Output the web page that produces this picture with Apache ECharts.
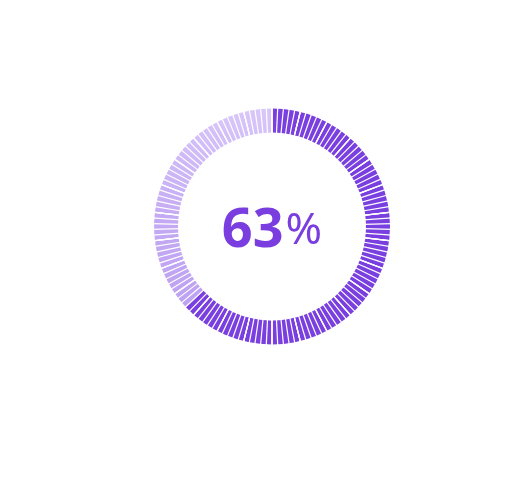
<!DOCTYPE html>
<html>
<head>
<meta charset="utf-8">
<script src="https://cdn.jsdelivr.net/npm/echarts@6/dist/echarts.min.js"></script>
<style>
html,body{margin:0;padding:0;background:#fff;}
#main{width:505px;height:494px;}
</style>
</head>
<body>
<div id="main"></div>
<script>
// Data
const percentValue = [63];
const gaugeMin = 0;
const gaugeMax = 100;

const chart = echarts.init(document.getElementById('main'));
const frac = (percentValue[0] - gaugeMin) / (gaugeMax - gaugeMin);

const lightGradient = new echarts.graphic.LinearGradient(0, 0, 0, 1, [
  { offset: 0, color: '#d8c7fa' },
  { offset: 0.55, color: '#c4aaf4' },
  { offset: 1, color: '#bea2f2' }
]);

const gapStyle = { color: '#ffffff', width: 1.2 };

chart.setOption({
  backgroundColor: '#ffffff',
  series: [{
    type: 'gauge',
    center: [272, 226.5],
    radius: 118,
    startAngle: 90,
    endAngle: -270,
    min: gaugeMin,
    max: gaugeMax,
    splitNumber: 26,
    animation: false,
    pointer: { show: false },
    anchor: { show: false },
    title: { show: false },
    axisLine: {
      show: true,
      lineStyle: {
        width: 24,
        color: [[frac, '#7a40df'], [1, lightGradient]]
      }
    },
    splitLine: { show: true, distance: -26, length: 28, lineStyle: gapStyle },
    axisTick: { show: true, splitNumber: 5, distance: -26, length: 28, lineStyle: gapStyle },
    axisLabel: { show: false },
    detail: {
      show: true,
      offsetCenter: [0, 5],
      valueAnimation: false,
      formatter: function (v) { return '{num|' + v + '}{pct|%}'; },
      rich: {
        num: { fontFamily: 'Noto Sans', fontWeight: 'bold', fontSize: 54, color: '#7a3ddf' },
        pct: { fontFamily: 'Noto Sans', fontWeight: 'normal', fontSize: 44, color: '#7a3ddf', padding: [0, 0, 0, 2] }
      }
    },
    data: [{ value: percentValue[0] }]
  }]
});
</script>
</body>
</html>
